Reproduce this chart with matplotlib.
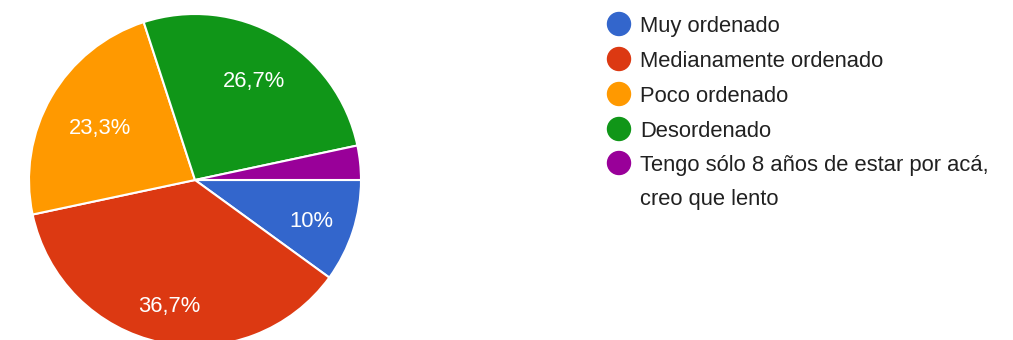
import numpy as np
import matplotlib.pyplot as plt
from matplotlib.patches import Circle

# Respuestas por categoría (30 en total)
categorias = ['Muy ordenado', 'Medianamente ordenado', 'Poco ordenado',
              'Desordenado', 'Tengo sólo 8 años de estar por acá,\ncreo que lento']
respuestas = [3, 11, 7, 8, 1]
colores = ['#3366cc', '#dc3912', '#ff9900', '#109618', '#990099']

plt.rcParams['font.family'] = ['Liberation Sans', 'DejaVu Sans']

W, H = 1013, 340
fig = plt.figure(figsize=(W / 100, H / 100), dpi=100)


def etiqueta(p):
    # las porciones muy pequeñas van sin texto
    if p < 5:
        return ''
    s = f'{p:.1f}'.replace('.', ',')
    if s.endswith(',0'):
        s = s[:-2]
    return s + '%'


# pie: centro (195, 180) px, radio 166 px
cx, cy, r = 195, 180, 166
ax = fig.add_axes([(cx - r) / W, (H - cy - r) / H, 2 * r / W, 2 * r / H])
wedges, textos, pcts = ax.pie(respuestas, colors=colores, startangle=0,
                              counterclock=False, autopct=etiqueta,
                              pctdistance=0.72,
                              wedgeprops=dict(edgecolor='white', linewidth=1.5),
                              textprops=dict(color='white', fontsize=15.8))
ax.set_xlim(-1, 1)
ax.set_ylim(-1, 1)
ax.set_aspect('equal')
ax.axis('off')

# distancia radial de cada etiqueta, ajustada a mano
dist = [0.74, 0.76, 0.66, 0.71, 0.7]
for t, w, d in zip(pcts, wedges, dist):
    ang = np.deg2rad((w.theta1 + w.theta2) / 2)
    t.set_position((d * np.cos(ang), d * np.sin(ang) - 0.02))

# leyenda manual a la derecha
lax = fig.add_axes([0, 0, 1, 1])
lax.set_xlim(0, W)
lax.set_ylim(H, 0)
lax.axis('off')
filas = [24, 59, 94, 129, 163]
for y, nombre, c in zip(filas, categorias, colores):
    lax.add_patch(Circle((619, y), 11.5, color=c))
    lineas = nombre.split('\n')
    for k, linea in enumerate(lineas):
        lax.text(640, y + 34 * k + 2.5, linea, fontsize=15.8, color='#212121',
                 va='center', ha='left')

fig.savefig('out.png', dpi=100)
